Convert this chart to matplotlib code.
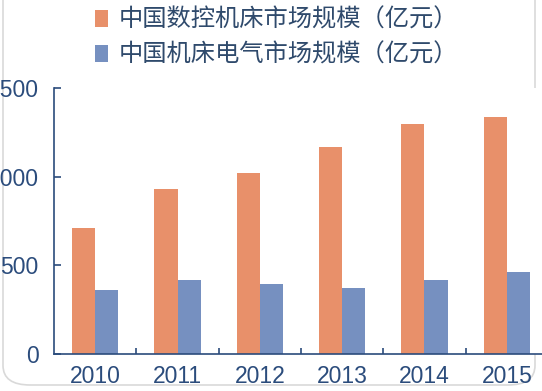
"""
China CNC machine tool vs machine-tool electrics market size, 2010-2015.
"""

import matplotlib
matplotlib.use("Agg")
import matplotlib.pyplot as plt
from matplotlib.patches import FancyBboxPatch

plt.rcParams["font.family"] = ["Liberation Sans", "Noto Sans CJK SC", "DejaVu Sans"]

years = ["2010", "2011", "2012", "2013", "2014", "2015"]
cnc_market = [710, 930, 1020, 1170, 1295, 1335]
electric_market = [360, 415, 395, 375, 420, 465]
series_labels = ["中国数控机床市场规模（亿元）", "中国机床电气市场规模（亿元）"]
y_ticks = [0, 500, 1000, 1500]

ORANGE = "#e8906a"
BLUE = "#7690c0"
NAVY = "#2b4c7c"
TEXT = "#2f4a6c"


def main():
    fig = plt.figure(figsize=(5.42, 3.91), dpi=100)
    W, H = 542, 391
    ax = fig.add_axes([54 / W, 37 / H, (548 - 54) / W, (303 - 37) / H])

    x = range(len(years))
    w = 0.28
    b1 = ax.bar([i - w / 2 for i in x], cnc_market, width=w, color=ORANGE)
    b2 = ax.bar([i + w / 2 for i in x], electric_market, width=w, color=BLUE)

    ax.set_xlim(-0.5, len(years) - 0.5)
    ax.set_ylim(0, 1500)
    ax.set_yticks(y_ticks)
    ax.set_yticklabels([str(v) for v in y_ticks])
    ax.set_xticks(list(x))
    ax.set_xticklabels(years)
    ax.set_xticks([i + 0.5 for i in range(len(years) - 1)], minor=True)

    for side in ("top", "right"):
        ax.spines[side].set_visible(False)
    for side in ("left", "bottom"):
        ax.spines[side].set_color(NAVY)
        ax.spines[side].set_linewidth(1.2)

    ax.tick_params(axis="y", direction="in", length=5, width=1.2, color=NAVY,
                   labelsize=16.5, labelcolor=NAVY, pad=11)
    ax.tick_params(axis="x", which="major", length=0, labelsize=16.5,
                   labelcolor=NAVY, pad=8)
    ax.tick_params(axis="x", which="minor", direction="in", length=4,
                   width=1.2, color=NAVY)

    fig.legend([b1, b2], series_labels, loc="upper left",
               bbox_to_anchor=(80 / W, 1.02), frameon=False,
               prop={"family": ["Noto Sans CJK SC", "DejaVu Sans"], "size": 17.5},
               labelcolor=TEXT, handlelength=0.55, handleheight=0.7,
               handletextpad=0.45, labelspacing=0.38, borderaxespad=0.2)

    frame = FancyBboxPatch((3 / W, 6 / H), (535 - 3) / W, 420 / H,
                           boxstyle="round,pad=0,rounding_size=0.05",
                           transform=fig.transFigure, facecolor="none",
                           edgecolor="#d9d9d9", linewidth=1.2, zorder=-1)
    fig.patches.append(frame)

    fig.savefig("out.png", dpi=100)


if __name__ == "__main__":
    main()
